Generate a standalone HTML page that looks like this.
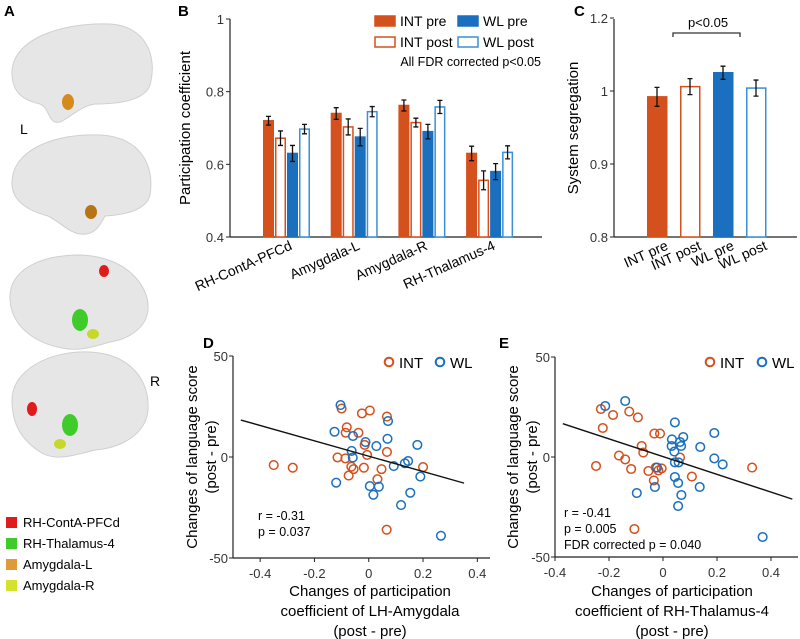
<!DOCTYPE html>
<html><head><meta charset="utf-8"><style>
body{margin:0;background:#fff;}
svg{display:block;font-family:"Liberation Sans",Arial,sans-serif;}
</style></head><body>
<svg id="fig" width="800" height="639" viewBox="0 0 800 639" xmlns="http://www.w3.org/2000/svg">
<g>
<text x="4" y="16" font-size="15" font-weight="bold">A</text>
<g><path d="M12,75 C10,40 60,22 110,24 C145,26 158,55 150,85 C145,100 120,104 95,104 C80,106 70,118 60,122 C48,125 50,108 40,104 C22,100 13,92 12,75Z" fill="#e6e6e6" stroke="#d0d0d0"/><ellipse cx="68" cy="102" rx="6" ry="8" fill="#d48a1e"/></g>
<text x="20" y="134" font-size="14">L</text>
<g><path d="M12,185 C10,150 55,133 100,135 C140,137 155,165 150,195 C146,212 120,215 105,216 C100,225 95,236 80,234 C68,232 60,222 48,216 C25,210 13,200 12,185Z" fill="#e6e6e6" stroke="#d0d0d0"/><ellipse cx="91" cy="212" rx="6" ry="7" fill="#b87314"/></g>
<g><path d="M10,300 C8,270 40,255 80,255 C125,256 150,285 148,310 C146,330 125,340 110,342 C95,346 80,352 62,348 C40,344 12,330 10,300Z" fill="#e6e6e6" stroke="#d0d0d0"/><ellipse cx="104" cy="271" rx="5" ry="6" fill="#e01b1b"/><ellipse cx="80" cy="320" rx="8" ry="11" fill="#3fcc2a"/><ellipse cx="93" cy="334" rx="6" ry="5" fill="#c7d82a"/></g>
<text x="150" y="386" font-size="14">R</text>
<g><path d="M12,400 C12,370 50,350 90,352 C130,354 150,380 148,410 C146,435 120,448 95,450 C75,455 55,462 40,452 C22,440 12,425 12,400Z" fill="#e6e6e6" stroke="#d0d0d0"/><ellipse cx="32" cy="409" rx="5" ry="7" fill="#e01b1b"/><ellipse cx="70" cy="425" rx="8" ry="11" fill="#3fcc2a"/><ellipse cx="60" cy="444" rx="6" ry="5" fill="#c7d82a"/></g>
<g font-size="13">
<rect x="6" y="517" width="11" height="11" fill="#e01b1b"/><text x="23" y="527">RH-ContA-PFCd</text>
<rect x="6" y="538" width="11" height="11" fill="#3fcc2a"/><text x="23" y="548">RH-Thalamus-4</text>
<rect x="6" y="559" width="11" height="11" fill="#e09a3a"/><text x="23" y="569">Amygdala-L</text>
<rect x="6" y="580" width="11" height="11" fill="#d4e22e"/><text x="23" y="590">Amygdala-R</text>
</g>
</g>
<g id="pb"></g>
<g id="pc"></g>
<g id="pd"></g>
<g id="pe"></g>
</svg>
<script>
const ORANGE="#d4501c", BLUE="#1a6fbf";
// Panel B data
const bRegions=["RH-ContA-PFCd","Amygdala-L","Amygdala-R","RH-Thalamus-4"];
const bIntPre=[0.72,0.74,0.762,0.63];
const bIntPost=[0.672,0.703,0.715,0.556];
const bWlPre=[0.63,0.675,0.69,0.58];
const bWlPost=[0.697,0.745,0.758,0.633];
const bErr=[[0.012,0.02,0.022,0.013],[0.016,0.022,0.024,0.014],[0.015,0.012,0.02,0.018],[0.02,0.026,0.022,0.018]];
const bTicks=[0.4,0.6,0.8,1];
const bTickLabels=["0.4","0.6","0.8","1"];
// Panel C data
const cGroups=["INT pre","INT post","WL pre","WL post"];
const cValues=[0.992,1.006,1.025,1.004];
const cErr=[0.013,0.011,0.009,0.011];
const cTicks=[0.8,0.9,1,1.1];
const cTickLabels=["0.8","0.9","1","1.2"];
// Panel D data
const dIntX=[-0.35,-0.28,-0.10,-0.025,0.004,0.067,-0.081,-0.085,-0.038,-0.115,-0.086,-0.064,-0.056,-0.074,-0.018,-0.015,-0.006,0.032,0.047,0.067,0.066,0.2];
const dIntY=[-4,-5.3,24,21.6,23,20,14.7,12,12,-0.2,-0.7,-4.8,-6,-9.2,-5.3,6,1,-11,-6,2.5,-36,-5];
const dWlX=[-0.104,-0.126,-0.058,0.071,0.069,-0.063,-0.059,-0.012,0.028,0.092,0.133,0.145,0.179,-0.12,0.004,0.037,0.017,0.119,0.153,0.19,0.266];
const dWlY=[25.7,12.5,10.4,17.8,9,3,-0.3,7.4,5.4,-4.5,-3.1,-2,6,-12.7,-14.4,-14.7,-18.7,-23.8,-17.7,-9.7,-39];
const dFit=[-0.471,0.351,0.4,-38];
const dXTicks=[-0.4,-0.2,0,0.2,0.4];
const dXLabels=["-0.4","-0.2","0","0.2","0.4"];
const yTicks=[-50,0,50];
const yLabels=["-50","0","50"];
// Panel E data
const eIntX=[-0.248,-0.23,-0.223,-0.185,-0.163,-0.14,-0.125,-0.118,-0.093,-0.079,-0.073,-0.054,-0.034,-0.032,-0.011,-0.027,-0.017,-0.005,0.063,0.107,0.33,-0.106];
const eIntY=[-4.5,24,14.5,21,0.7,-1.2,22.7,-6,19.8,5.5,2.2,-7,-11.7,11.7,11.7,-5.3,-6.7,-5.7,-0.3,-9.8,-5.3,-36];
const eWlX=[-0.214,-0.14,-0.022,-0.03,-0.097,0.044,0.033,0.063,0.075,0.032,0.067,0.042,0.044,0.058,0.044,0.056,0.068,0.056,0.138,0.136,0.19,0.19,0.221,0.369];
const eWlY=[25.5,28,-5.3,-15,-18,17.3,8.8,7.5,10,5.5,5.5,2.7,-2.7,-2.7,-10,-13,-19,-24.5,5,-15,12,-0.7,-3.7,-40];
const eFit=[-0.371,0.479,0.2,-44.4];
const eXTicks=[-0.4,-0.2,0,0.2,0.4];
const eXLabels=["-0.4","-0.2","0","0.2","0.4"];

const NS="http://www.w3.org/2000/svg";
function mk(parent,tag,attrs,text){const e=document.createElementNS(NS,tag);for(const k in attrs)e.setAttribute(k,attrs[k]);if(text!==undefined)e.textContent=text;parent.appendChild(e);return e;}

// ---------- Panel B ----------
(function(){
const g=document.getElementById('pb');
const y=v=>237-(v-0.4)*363.3;
const x0=230,x1=542;
let t=mk(g,'text',{x:178,y:16,'font-size':15,'font-weight':'bold'},'B');


let ax=mk(g,'line',{x1:x0,y1:19,x2:x0,y2:237,stroke:'#222','stroke-width':1.2});


let xa=mk(g,'line',{x1:x0,y1:237,x2:x1,y2:237,stroke:'#222','stroke-width':1.2});


bTicks.forEach((v,i)=>{
 let tk=mk(g,'line',{x1:x0-4,y1:y(v),x2:x0,y2:y(v),stroke:'#222'});
 
 
 let tl=mk(g,'text',{x:x0-6,y:y(v)+5,'font-size':13,'text-anchor':'end',fill:'#333'},bTickLabels[i]);
 
 
});
let yl=mk(g,'text',{transform:'translate(190,128) rotate(-90)','font-size':15,'text-anchor':'middle'},'Participation coefficient');


const series=[bIntPre,bIntPost,bWlPre,bWlPost];
const fills=[ORANGE,'#fff',BLUE,'#fff'],strokes=[ORANGE,ORANGE,BLUE,'#3a8fd6'];
const names=['int-pre','int-post','wl-pre','wl-post'];
bRegions.forEach((r,gi)=>{
 const gx=263+gi*67.7;
 series.forEach((s,si)=>{
  const bx=gx+si*12, v=s[gi];
  let b=mk(g,'rect',{x:bx+0.75,y:y(v),width:9.5,height:237-y(v),fill:fills[si],stroke:strokes[si],'stroke-width':1.5});
  
  
  const e=bErr[gi][si],cx=bx+5.5;
  let eb=mk(g,'path',{d:`M${cx},${y(v+e)}V${y(v-e)}M${cx-2.5},${y(v+e)}H${cx+2.5}M${cx-2.5},${y(v-e)}H${cx+2.5}`,stroke:'#111','stroke-width':1.3,fill:'none'});
  
  
 });
 let xl=mk(g,'text',{transform:`translate(${gx+30},249) rotate(-24)`,'font-size':14,'text-anchor':'end'},r);
 
 
});
const lg=[[374,15,ORANGE,ORANGE,'INT pre'],[457,15,BLUE,BLUE,'WL pre'],[374,36,'#fff',ORANGE,'INT post'],[457,36,'#fff','#3a8fd6','WL post']];
lg.forEach(l=>{
 let sw=mk(g,'rect',{x:l[0]+1,y:l[1]+1,width:20,height:10,fill:l[2],stroke:l[3],'stroke-width':1.5});
 
 
 let lt=mk(g,'text',{x:l[0]+26,y:l[1]+11,'font-size':14},l[4]);
 
 
});
let note=mk(g,'text',{x:541,y:66,'font-size':12.5,'text-anchor':'end'},'All FDR corrected p<0.05');


})();

// ---------- Panel C ----------
(function(){
const g=document.getElementById('pc');
const y=v=>237-(v-0.8)*730;
const x0=614,x1=797;
let t=mk(g,'text',{x:574,y:16,'font-size':15,'font-weight':'bold'},'C');


let ax=mk(g,'line',{x1:x0,y1:19,x2:x0,y2:237,stroke:'#222','stroke-width':1.2});


let xa=mk(g,'line',{x1:x0,y1:237,x2:x1,y2:237,stroke:'#222','stroke-width':1.2});


cTicks.forEach((v,i)=>{
 let tk=mk(g,'line',{x1:x0-4,y1:y(v),x2:x0,y2:y(v),stroke:'#222'});
 
 
 let tl=mk(g,'text',{x:x0-6,y:y(v)+5,'font-size':13,'text-anchor':'end',fill:'#333'},cTickLabels[i]);
 
 
});
let yl=mk(g,'text',{transform:'translate(578,128) rotate(-90)','font-size':15,'text-anchor':'middle'},'System segregation');


const fills=[ORANGE,'#fff',BLUE,'#fff'],strokes=[ORANGE,ORANGE,BLUE,'#3a8fd6'];
cGroups.forEach((gname,i)=>{
 const bx=647+i*33,v=cValues[i];
 let b=mk(g,'rect',{x:bx+0.75,y:y(v),width:19,height:237-y(v),fill:fills[i],stroke:strokes[i],'stroke-width':1.5});
 
 
 const e=cErr[i],cx=bx+10;
 let eb=mk(g,'path',{d:`M${cx},${y(v+e)}V${y(v-e)}M${cx-2.5},${y(v+e)}H${cx+2.5}M${cx-2.5},${y(v-e)}H${cx+2.5}`,stroke:'#111','stroke-width':1.3,fill:'none'});
 
 
 let xl=mk(g,'text',{transform:`translate(${bx+22},249) rotate(-24)`,'font-size':14,'text-anchor':'end'},gname);
 
 
});
let br=mk(g,'path',{d:'M673,37V33H740V37',stroke:'#333','stroke-width':1.3,fill:'none'});


let pt=mk(g,'text',{x:708,y:27,'font-size':13,'text-anchor':'middle'},'p<0.05');


})();

// ---------- Scatter panels ----------
function scatter(id,opt){
const g=document.getElementById(id);
const xs=v=>opt.x0px+(v-opt.xmin)*opt.kx;
const ys=v=>457-v*opt.ky;
let t=mk(g,'text',{x:opt.lab[0],y:opt.lab[1],'font-size':15,'font-weight':'bold'},opt.letter);


let ax=mk(g,'line',{x1:opt.x0px,y1:ys(50),x2:opt.x0px,y2:ys(-50),stroke:'#222','stroke-width':1.2});


let xa=mk(g,'line',{x1:opt.x0px,y1:ys(-50),x2:opt.xend,y2:ys(-50),stroke:'#222','stroke-width':1.2});


yTicks.forEach((v,i)=>{
 let tk=mk(g,'line',{x1:opt.x0px-4,y1:ys(v),x2:opt.x0px,y2:ys(v),stroke:'#222'});
 
 
 let tl=mk(g,'text',{x:opt.x0px-5,y:ys(v)+5,'font-size':13,'text-anchor':'end',fill:'#333'},yLabels[i]);
 
 
});
opt.xt.forEach((v,i)=>{
 let tk=mk(g,'line',{x1:xs(v),y1:ys(-50),x2:xs(v),y2:ys(-50)+4,stroke:'#222'});
 
 
 let tl=mk(g,'text',{x:xs(v),y:ys(-50)+20,'font-size':13,'text-anchor':'middle',fill:'#333'},opt.xl[i]);
 
 
});
let yt=mk(g,'text',{transform:`translate(${opt.ytx},457) rotate(-90)`,'font-size':15,'text-anchor':'middle'});


mk(yt,'tspan',{x:0,dy:0},'Changes of language score');
mk(yt,'tspan',{x:0,dy:19},'(post - pre)');
const xlines=['Changes of participation',opt.xtitle,'(post - pre)'];
xlines.forEach((s,i)=>{
 let tl=mk(g,'text',{x:opt.xtc,y:596+i*20,'font-size':15,'text-anchor':'middle'},s);
 
 
});
opt.ix.forEach((v,i)=>{
 let c=mk(g,'circle',{cx:xs(v),cy:ys(opt.iy[i]),r:4.3,fill:'none',stroke:ORANGE,'stroke-width':1.5});
 
 
});
opt.wx.forEach((v,i)=>{
 let c=mk(g,'circle',{cx:xs(v),cy:ys(opt.wy[i]),r:4.3,fill:'none',stroke:BLUE,'stroke-width':1.5});
 
 
});
const f=opt.fit;
let ln=mk(g,'line',{x1:xs(f[0]),y1:ys(f[2]+f[3]*f[0]),x2:xs(f[1]),y2:ys(f[2]+f[3]*f[1]),stroke:'#111','stroke-width':1.4});


const L=opt.leg;
let c1=mk(g,'circle',{cx:L[0],cy:362,r:4.3,fill:'none',stroke:ORANGE,'stroke-width':2});


let t1=mk(g,'text',{x:L[0]+10,y:368,'font-size':15},'INT');


let c2=mk(g,'circle',{cx:L[1],cy:362,r:4.3,fill:'none',stroke:BLUE,'stroke-width':2});


let t2=mk(g,'text',{x:L[1]+10,y:368,'font-size':15},'WL');


opt.stats.forEach((s,i)=>{
 let st=mk(g,'text',{x:opt.sx,y:opt.sy+i*16,'font-size':12.5},s);
 
 
});
}
scatter('pd',{letter:'D',lab:[203,348],x0px:233,xend:490,xmin:-0.5,kx:271.5,ky:2.02,xt:dXTicks,xl:dXLabels,ytx:197,xtc:370,xtitle:'coefficient of LH-Amygdala',ix:dIntX,iy:dIntY,wx:dWlX,wy:dWlY,fit:dFit,leg:[389,440],stats:['r = -0.31','p = 0.037'],sx:258,sy:520});
scatter('pe',{letter:'E',lab:[499,348],x0px:555,xend:798,xmin:-0.4,kx:270,ky:2.0,xt:eXTicks,xl:eXLabels,ytx:518,xtc:672,xtitle:'coefficient of RH-Thalamus-4',ix:eIntX,iy:eIntY,wx:eWlX,wy:eWlY,fit:eFit,leg:[710,762],stats:['r = -0.41','p = 0.005','FDR corrected p = 0.040'],sx:564,sy:517});
</script>
</body></html>
